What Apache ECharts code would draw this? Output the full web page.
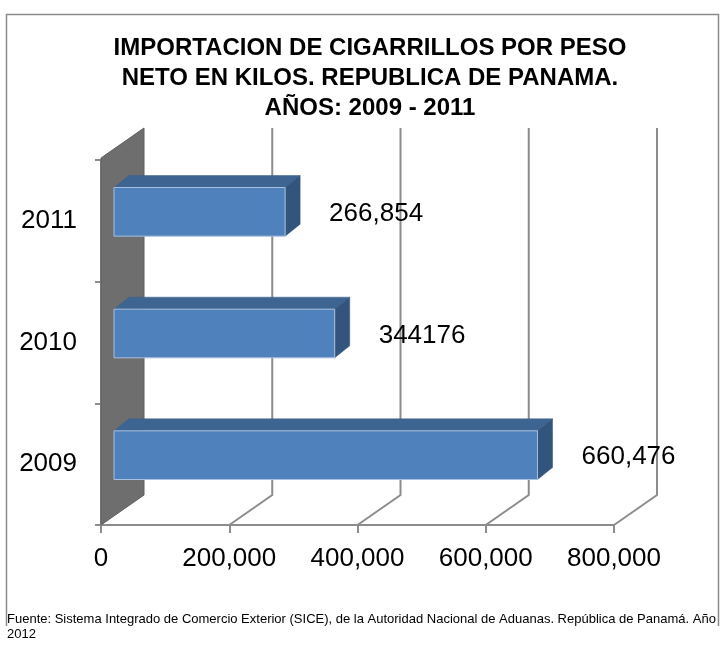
<!DOCTYPE html>
<html>
<head>
<meta charset="utf-8">
<script src="https://cdn.jsdelivr.net/npm/echarts@6/dist/echarts.min.js"></script>
<style>
  html, body { margin: 0; padding: 0; background: #fff; }
  #main { width: 720px; height: 648px; }
</style>
</head>
<body>
<div id="main"></div>
<script>
// datos: importacion de cigarrillos, peso neto en kilos
var years = ['2009', '2010', '2011'];
var pesoNeto = [660476, 344176, 266854];
var valueLabels = ['660,476', '344176', '266,854'];
var xTicks = [0, 200000, 400000, 600000, 800000];

var DEPTH_X = 43, DEPTH_Y = -30;   // profundidad del piso / pared
var BAR_X = 13, BAR_Y = -9;        // cara frontal de la barra
var BAR_DX = 15, BAR_DY = -12;     // profundidad de la barra
var GRID_COLOR = '#8c8c8c';
var FONT = '"Liberation Sans", Arial, sans-serif';

var chart = echarts.init(document.getElementById('main'));

function plotBox(api) {
  var band = api.size([0, 1])[1];
  var first = api.coord([0, 0]);
  var last = api.coord([0, years.length - 1]);
  return {
    x0: first[0],
    bottom: first[1] + band / 2,
    top: last[1] - band / 2 - 2
  };
}

function renderWall(params, api) {
  var b = plotBox(api);
  return {
    type: 'polygon',
    shape: {
      points: [
        [b.x0, b.bottom],
        [b.x0, b.top],
        [b.x0 + DEPTH_X, b.top + DEPTH_Y],
        [b.x0 + DEPTH_X, b.bottom + DEPTH_Y]
      ]
    },
    style: { fill: '#6e6e6e', stroke: '#5e5e5e', lineWidth: 1 }
  };
}

function renderGridLine(params, api) {
  var b = plotBox(api);
  var x = api.coord([api.value(0), 0])[0];
  return {
    type: 'polyline',
    shape: {
      points: [
        [x, b.bottom],
        [x + DEPTH_X, b.bottom + DEPTH_Y],
        [x + DEPTH_X, b.top + DEPTH_Y]
      ]
    },
    style: { stroke: GRID_COLOR, lineWidth: 2, fill: null }
  };
}

function renderBar(params, api) {
  var idx = api.value(1);
  var start = api.coord([0, idx]);
  var end = api.coord([api.value(0), idx]);
  var h = api.size([0, 1])[1] * 0.4;
  var x = start[0] + BAR_X;
  var y = start[1] + BAR_Y - h / 2;
  var w = end[0] - start[0];
  return {
    type: 'group',
    children: [
      {
        type: 'polygon',
        shape: { points: [[x, y], [x + w, y], [x + w + BAR_DX, y + BAR_DY], [x + BAR_DX, y + BAR_DY]] },
        style: { fill: '#3e6592', stroke: '#3a5f8a', lineWidth: 0.5 }
      },
      {
        type: 'polygon',
        shape: { points: [[x + w, y], [x + w + BAR_DX, y + BAR_DY], [x + w + BAR_DX, y + h + BAR_DY], [x + w, y + h]] },
        style: { fill: '#33557d', stroke: '#30507a', lineWidth: 0.5 }
      },
      {
        type: 'rect',
        shape: { x: x, y: y, width: w, height: h },
        style: { fill: '#4f81bd', stroke: '#a9c0dd', lineWidth: 1 }
      },
      {
        type: 'text',
        style: {
          text: valueLabels[params.dataIndex],
          x: x + w + BAR_DX + 29,
          y: y + h / 2 + 2,
          align: 'left',
          verticalAlign: 'middle',
          fontSize: 26,
          fontFamily: FONT,
          fill: '#000'
        }
      }
    ]
  };
}

var option = {
  animation: false,
  title: {
    text: 'IMPORTACION DE CIGARRILLOS POR PESO\nNETO EN KILOS. REPUBLICA DE PANAMA.\nAÑOS: 2009 - 2011',
    left: 370,
    top: 33,
    padding: 0,
    textAlign: 'center',
    textStyle: {
      fontSize: 24,
      fontWeight: 'bold',
      lineHeight: 30,
      fontFamily: FONT,
      color: '#000'
    }
  },
  grid: { left: 101, right: 106, top: 160, bottom: 123, containLabel: false },
  xAxis: {
    type: 'value',
    min: xTicks[0],
    max: xTicks[xTicks.length - 1],
    interval: xTicks[1] - xTicks[0],
    splitLine: { show: false },
    axisLine: { show: true, lineStyle: { color: GRID_COLOR, width: 2 } },
    axisTick: { show: true, length: 8, lineStyle: { color: GRID_COLOR, width: 2 } },
    axisLabel: {
      margin: 21,
      fontSize: 26,
      fontFamily: FONT,
      color: '#000',
      formatter: function (v) { return v.toLocaleString('en-US'); }
    }
  },
  yAxis: {
    type: 'category',
    data: years,
    axisLine: { show: true, lineStyle: { color: GRID_COLOR, width: 2 } },
    axisTick: { show: true, length: 6, lineStyle: { color: GRID_COLOR, width: 2 } },
    axisLabel: { margin: 24, fontSize: 26, fontFamily: FONT, color: '#000' }
  },
  series: [
    {
      type: 'custom',
      clip: false,
      z: 1,
      renderItem: renderGridLine,
      data: xTicks.slice(1).map(function (v) { return [v, 0]; })
    },
    {
      type: 'custom',
      clip: false,
      z: 2,
      renderItem: renderWall,
      data: [[0, 0]]
    },
    {
      type: 'custom',
      clip: false,
      z: 3,
      renderItem: renderBar,
      data: pesoNeto.map(function (v, i) { return [v, i]; })
    }
  ],
  graphic: [
    {
      type: 'polyline',
      shape: { points: [[6.5, 626], [6.5, 14.5], [718.5, 14.5], [718.5, 626]] },
      style: { stroke: '#8a8a8a', lineWidth: 1.5, fill: null },
      z: 0
    },
    {
      type: 'text',
      left: 7,
      top: 612,
      style: {
        text: 'Fuente: Sistema Integrado de Comercio Exterior (SICE), de la Autoridad Nacional de Aduanas. República de Panamá. Año\n2012',
        fontSize: 13,
        lineHeight: 15,
        fontFamily: '"Liberation Sans Narrow", "Arial Narrow", sans-serif',
        fill: '#000'
      }
    }
  ]
};

chart.setOption(option);
</script>
</body>
</html>
